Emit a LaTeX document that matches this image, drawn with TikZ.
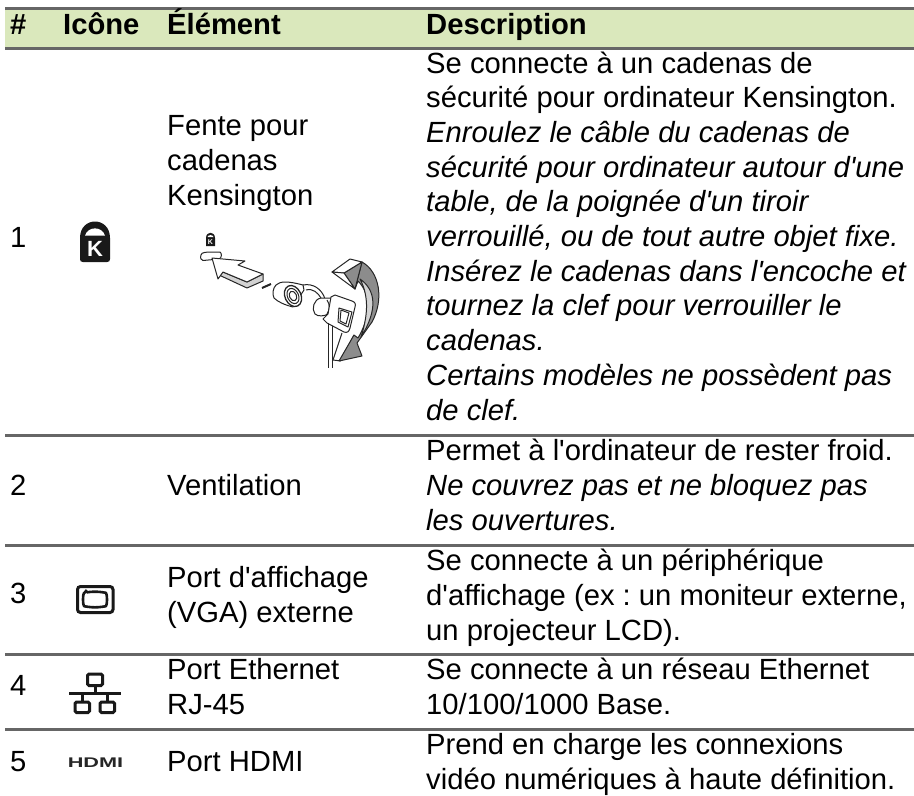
\documentclass[tikz,border=0pt]{standalone}
\usepackage{fontspec}
\setmainfont{Liberation Sans}
\AtBeginDocument{\frenchspacing}
\definecolor{headbg}{HTML}{DAE8BC}
\definecolor{rulec}{HTML}{666666}
\definecolor{arrowg}{HTML}{8C8C8C}
\definecolor{arrowl}{HTML}{D2D2D2}
\newcommand{\ap}{\textquotesingle}
\tikzset{
 txt/.style={anchor=base west,inner sep=0pt,font=\fontsize{29.2}{29.2}\selectfont},
 itxt/.style={txt,font=\fontsize{29.2}{29.2}\selectfont\itshape},
 hd/.style={txt,font=\fontsize{29.2}{29.2}\selectfont\bfseries},
 rl/.style={draw=rulec,line width=3pt},
 ic/.style={draw=black!90,line width=3pt,rounded corners=1.5pt},
 sk/.style={draw=black!85,line width=1pt,line join=round},
 skf/.style={sk,fill=white}
}
\begin{document}
\begin{tikzpicture}[x=1pt,y=-1pt]
\useasboundingbox (0,0) rectangle (914,796);
\fill[headbg] (5,8) rectangle (914,47);
\draw[rl] (5,8)--(914,8);
\draw[rl] (5,48)--(914,48);
\draw[rl] (5,435)--(914,435);
\draw[rl] (5,545)--(914,545);
\draw[rl] (5,654)--(914,654);
\draw[rl] (5,729)--(914,729);
\node[hd] (h1) at (10,34) {\#};
\node[hd] (h2) at (63,34) {Icône};
\node[hd] (h3) at (167,34) {Élément};
\node[hd] (h4) at (426,34) {Description};
\node[txt] (n1) at (10,247) {1};
\node[txt] (e1a) at (167,135) {Fente pour};
\node[txt] (e1b) at (167,170) {cadenas};
\node[txt] (e1c) at (167,205) {Kensington};
\node[txt] (d1) at (426,73) {Se connecte à un cadenas de};
\node[txt] (d2) at (426,107.7) {sécurité pour ordinateur Kensington.};
\node[itxt] (d3) at (426,142.4) {Enroulez le câble du cadenas de};
\node[itxt] (d4) at (426,177.1) {sécurité pour ordinateur autour d\ap une};
\node[itxt] (d5) at (426,211.8) {table, de la poignée d\ap un tiroir};
\node[itxt] (d6) at (426,246.5) {verrouillé, ou de tout autre objet fixe.};
\node[itxt] (d7) at (426,281.2) {Insérez le cadenas dans l\ap encoche et};
\node[itxt] (d8) at (426,315.9) {tournez la clef pour verrouiller le};
\node[itxt] (d9) at (426,350.6) {cadenas.};
\node[itxt] (d10) at (426,385.3) {Certains modèles ne possèdent pas};
\node[itxt] (d11) at (426,420) {de clef.};
\node[txt] (n2) at (10,495) {2};
\node[txt] (e2) at (167,495) {Ventilation};
\node[txt] (p1) at (426,460) {Permet à l\ap ordinateur de rester froid.};
\node[itxt] (p2) at (426,495) {Ne couvrez pas et ne bloquez pas};
\node[itxt] (p3) at (426,530) {les ouvertures.};
\node[txt] (n3) at (10,603) {3};
\node[txt] (e3a) at (167,587) {Port d\ap affichage};
\node[txt] (e3b) at (167,622) {(VGA) externe};
\node[txt] (v1) at (426,570) {Se connecte à un périphérique};
\node[txt] (v2) at (426,605) {d\ap affichage (ex : un moniteur externe,};
\node[txt] (v3) at (426,640) {un projecteur LCD).};
\node[txt] (n4) at (10,695) {4};
\node[txt] (e4a) at (167,679) {Port Ethernet};
\node[txt] (e4b) at (167,714) {RJ-45};
\node[txt] (r1) at (426,679) {Se connecte à un réseau Ethernet};
\node[txt] (r2) at (426,714) {10/100/1000 Base.};
\node[txt] (n5) at (10,771) {5};
\node[txt] (e5) at (167,771) {Port HDMI};
\node[txt] (m1) at (426,754) {Prend en charge les connexions};
\node[txt] (m2) at (426,789) {vidéo numériques à haute définition.};
% VGA icon
\draw[ic,rounded corners=3pt] (77.5,586.5) rectangle (113,612.5);
\draw[ic,line width=2.6pt] (86,592.5) .. controls (92,591.5) and (98,591.5) .. (104,592.5) .. controls (107.5,593) and (107.5,606) .. (104,606.5) .. controls (98,607.5) and (92,607.5) .. (86,606.5) .. controls (82.5,606) and (82.5,593) .. (86,592.5) -- cycle;
% Ethernet icon
\draw[ic] (87.5,674) rectangle (102.5,685.5);
\draw[ic,rounded corners=0pt] (95,685.5) -- (95,693);
\draw[ic,rounded corners=0pt] (69,693.3) -- (121,693.3);
\draw[ic,rounded corners=0pt] (82,693) -- (82,702);
\draw[ic,rounded corners=0pt] (107,693) -- (107,702);
\draw[ic] (75,702) rectangle (89.5,712.5);
\draw[ic] (100,702) rectangle (114.5,712.5);
% HDMI icon
\node[anchor=center,inner sep=0pt,text=black!85,font=\fontsize{14}{14}\selectfont\bfseries] (hdmi) at (95.5,762.5) {\scalebox{1.55}[1]{HDMI}};
% Kensington icon
\fill[black!90] (80,238) .. controls (80,216) and (110,216) .. (110,238) -- (110,259) .. controls (110,261) and (109,262) .. (107,262) -- (83,262) .. controls (81,262) and (80,261) .. (80,259) -- cycle;
\fill[white] (85,235.5) .. controls (88,226) and (102,226) .. (105,235.5) -- cycle;
\node[inner sep=0pt,text=white,font=\fontsize{22}{22}\selectfont\bfseries] (ki) at (95,249) {K};
% small K icon
\fill[black!90] (206,238) .. controls (206,231) and (215,231) .. (215,238) -- (215,246) -- (206,246) -- cycle;
\fill[white] (207.5,237) .. controls (208,234.5) and (213,234.5) .. (213.5,237) -- cycle;
\node[inner sep=0pt,text=white,font=\fontsize{7}{7}\selectfont\bfseries] (ki2) at (210.5,241.8) {K};
% slot
\draw[skf] (201,255) .. controls (202,252) and (204,252) .. (220,252) .. controls (222,253) and (222,258) .. (219,259) -- (203,260.5) .. controls (201,260.5) and (200,258) .. (201,255) -- cycle;
% straight arrow
\filldraw[sk,fill=arrowl] (223,272) -- (247,282) -- (263,274) -- (263,281) -- (247,288) -- (219,275) -- cycle;
\draw[skf] (212,258) -- (245,261) -- (238,265) -- (263,274) -- (247,282) -- (223,272) -- (218,279) -- cycle;
\draw[sk,line width=2pt] (262,288) -- (271,284);
% lock barrel
\draw[skf] (276,285) .. controls (280,281) and (288,281) .. (303,285) -- (304,290) -- (293,307) .. controls (285,305) and (278,302) .. (274,298) .. controls (272,294) and (273,288) .. (276,285) -- cycle;
\draw[skf,line width=1.3pt,rotate around={25:(293,296)}] (293,296) ellipse (8 and 11);
\draw[sk,rotate around={25:(293,296)}] (293,296) ellipse (5.5 and 8);
\draw[sk,rotate around={25:(293,296)}] (293,296) ellipse (3.5 and 5);
% cable
\draw[sk] (303,285) .. controls (313,283) and (322,289) .. (325,299);
\draw[sk] (306,290) .. controls (313,288) and (318,293) .. (321,298);
% collar and key plate
\draw[skf] (321,298) .. controls (314,299) and (311,309) .. (315,314) .. controls (318,317) and (325,316) .. (328,314) -- (333,298) -- cycle;
\draw[sk] (327,300) .. controls (330,304) and (330,310) .. (327,314);
\draw[skf] (331,297) -- (335,295) -- (352,301) .. controls (355,302) and (356,304) .. (355,307) -- (350,328) .. controls (349,332) and (347,333) .. (344,332) -- (327,323) -- (323,319) -- (328,314) -- cycle;
\draw[sk] (339,308) -- (352,312) -- (348,327) -- (338,322) -- cycle;
\draw[sk] (341,310) -- (349,313) -- (346,324) -- (340,321) -- cycle;
% cable down
\draw[sk] (328,323) -- (328,368);
\draw[sk] (332,326) -- (332,368);
% blade
\draw[sk] (342,333) -- (333,360);
\draw[sk] (354,335) -- (341,360);
\draw[sk] (333,360) -- (341,361);
% curved arrow
\filldraw[sk,fill=arrowg] (362,262) .. controls (380,272) and (384,300) .. (372,322) -- (357,343) -- (362,356) -- (339,361) -- (354,335) -- (358,338) .. controls (370,318) and (372,295) .. (358,281) -- (355,289) -- cycle;
\filldraw[sk,fill=arrowl] (360,279) .. controls (376,290) and (378,310) .. (361,337) .. controls (367,318) and (370,298) .. (360,279) -- cycle;
\filldraw[sk,fill=arrowg] (344,273) -- (362,262) -- (355,289) -- cycle;
\draw[skf] (332,272) -- (350,259) -- (362,262) -- (344,273) -- cycle;
\draw[skf] (332,272) -- (344,273) -- (355,289) -- cycle;
\end{tikzpicture}
\end{document}
